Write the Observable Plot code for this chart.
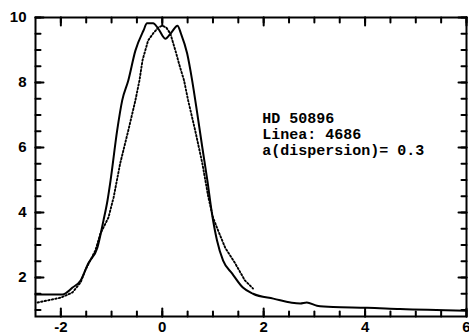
<!DOCTYPE html>
<html>
<head>
<meta charset="utf-8">
<script src="https://cdn.jsdelivr.net/npm/d3@7"></script>
<script src="https://cdn.jsdelivr.net/npm/@observablehq/plot@0.6"></script>
<style>
  html, body { margin: 0; padding: 0; background: white; overflow: hidden; }
</style>
</head>
<body>
<div id="chart"></div>
<script>
// Observed profile (solid line)
const obsX = [-2.5, -1.97, -1.77, -1.61, -1.46, -1.28, -1.16, -1.08, -1.02, -0.89, -0.79, -0.67, -0.53, -0.37, -0.30, -0.18, -0.08, 0.06, 0.18, 0.30, 0.37, 0.49, 0.59, 0.69, 0.79, 0.89, 0.98, 1.08, 1.20, 1.38, 1.59, 1.79, 2.19, 2.72, 2.85, 3.05, 3.37, 4.04, 4.69, 6.0];
const obsY = [1.48, 1.48, 1.69, 1.91, 2.43, 2.92, 3.75, 4.37, 4.98, 6.52, 7.45, 8.06, 8.98, 9.6, 9.82, 9.82, 9.66, 9.35, 9.54, 9.75, 9.5, 8.9, 8.06, 7.05, 6.0, 4.98, 3.97, 3.14, 2.52, 2.12, 1.69, 1.5, 1.35, 1.2, 1.23, 1.13, 1.09, 1.07, 1.03, 0.98];

// Model profile (dotted line)
const modX = [-2.46, -2.0, -1.77, -1.61, -1.52, -1.32, -1.22, -1.06, -0.96, -0.83, -0.67, -0.53, -0.45, -0.39, -0.28, -0.18, -0.08, 0.0, 0.08, 0.16, 0.26, 0.33, 0.43, 0.51, 0.65, 0.79, 0.91, 1.0, 1.10, 1.24, 1.44, 1.63, 1.79];
const modY = [1.23, 1.38, 1.54, 1.85, 2.22, 2.83, 3.35, 3.85, 4.46, 5.51, 6.52, 7.45, 8.06, 8.68, 9.29, 9.51, 9.69, 9.75, 9.69, 9.5, 8.98, 8.58, 8.06, 7.45, 6.52, 5.51, 4.46, 3.85, 3.45, 2.92, 2.43, 1.91, 1.66];

// Axis ticks
const xMajorTicks = [-2, 0, 2, 4, 6];
const yMajorTicks = [2, 4, 6, 8, 10];
const xMinorTicks = [-2, -1.5, -1, -0.5, 0, 0.5, 1, 1.5, 2, 2.5, 3, 3.5, 4, 4.5, 5, 5.5, 6];
const yMinorTicks = [1, 1.5, 2, 2.5, 3, 3.5, 4, 4.5, 5, 5.5, 6, 6.5, 7, 7.5, 8, 8.5, 9, 9.5, 10];

// Annotation
const noteLines = ["HD 50896", "Linea: 4686", "a(dispersion)= 0.3"];
const noteAt = {x: 1.97, y: 7.12};

const xDomain = [-2.5, 6];
const yDomain = [0.8, 10];

const obs = obsX.map((x, i) => ({x, y: obsY[i]}));
const mod = modX.map((x, i) => ({x, y: modY[i]}));

const W = 469, H = 334, ML = 35, MR = 3, MT = 17, MB = 18;
const FW = W - ML - MR, FH = H - MT - MB;
// inward tick lengths in pixels, converted to data units
const minorLen = 5, majorLen = 8;
const dxPx = (xDomain[1] - xDomain[0]) / FW;
const dyPx = (yDomain[1] - yDomain[0]) / FH;

// tick segments (two points each, grouped by id), built from the tick arrays
const tickSegs = [];
let tid = 0;
function addX(vals, len) {
  for (const v of vals) {
    tickSegs.push({id: tid, x: v, y: yDomain[0]}, {id: tid, x: v, y: yDomain[0] + len * dyPx}); tid++;
    tickSegs.push({id: tid, x: v, y: yDomain[1]}, {id: tid, x: v, y: yDomain[1] - len * dyPx}); tid++;
  }
}
function addY(vals, len) {
  for (const v of vals) {
    tickSegs.push({id: tid, y: v, x: xDomain[0]}, {id: tid, y: v, x: xDomain[0] + len * dxPx}); tid++;
    tickSegs.push({id: tid, y: v, x: xDomain[1]}, {id: tid, y: v, x: xDomain[1] - len * dxPx}); tid++;
  }
}
addX(xMinorTicks, minorLen); addX(xMajorTicks, majorLen);
addY(yMinorTicks, minorLen); addY(yMajorTicks, majorLen);

const labelFont = {fontSize: 15, fontWeight: "bold", fill: "black"};

const chart = Plot.plot({
  width: W,
  height: H,
  marginLeft: ML,
  marginRight: MR,
  marginTop: MT,
  marginBottom: MB,
  style: {fontFamily: "'Liberation Sans', Arial, sans-serif", background: "white", color: "black"},
  x: {domain: xDomain, label: null, axis: null},
  y: {domain: yDomain, label: null, axis: null},
  marks: [
    Plot.frame({stroke: "black", strokeWidth: 2, fill: "none"}),
    Plot.line(tickSegs, {x: "x", y: "y", z: "id", stroke: "black", strokeWidth: 2}),
    Plot.axisX(xMajorTicks, {anchor: "bottom", tickSize: 0, tickPadding: 5, tickFormat: d => d < 0 ? "-" + Math.abs(d) : String(d), ...labelFont}),
    Plot.axisY(yMajorTicks, {anchor: "left", tickSize: 0, tickPadding: 9, tickFormat: d => String(d), ...labelFont}),
    Plot.line(mod, {x: "x", y: "y", stroke: "black", strokeWidth: 1.9, strokeDasharray: "1.5,2.1"}),
    Plot.line(obs, {x: "x", y: "y", stroke: "black", strokeWidth: 2, curve: "monotone-x"}),
    Plot.text([noteLines.join("\n")], {
      x: () => noteAt.x, y: () => noteAt.y,
      textAnchor: "start", lineAnchor: "top", lineHeight: 1.07,
      fontFamily: "'Liberation Mono', 'Courier New', monospace",
      fontSize: 15, fontWeight: "bold", fill: "black"
    })
  ]
});
document.getElementById("chart").appendChild(chart);
</script>
</body>
</html>
